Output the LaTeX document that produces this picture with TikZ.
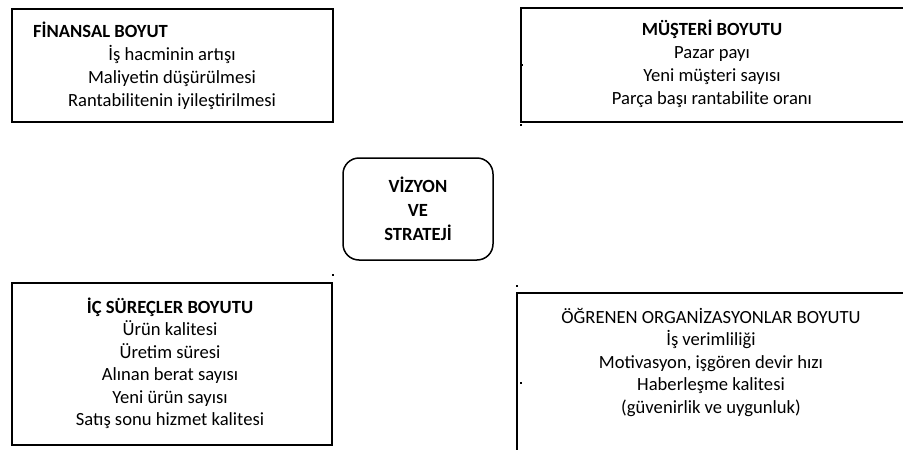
\documentclass[tikz,border=0pt]{standalone}
\usepackage{fontspec}
\setmainfont{Carlito}
\begin{document}
\begin{tikzpicture}[x=1pt,y=-1pt,
  frame/.style={draw=black,line width=2pt},
  txt/.style={font=\fontsize{18.6}{23}\selectfont,inner sep=0pt,anchor=base},
  hd/.style={txt,font=\fontsize{18.6}{23}\selectfont\bfseries},
  core/.style={draw=black,line width=1.5pt,rounded corners=16pt,
    minimum width=150pt,minimum height=102pt,align=center,
    font=\fontsize{18.6}{24}\selectfont\bfseries}]
\useasboundingbox (0,0) rectangle (903,450);

% financial perspective
\draw[frame] (12,9) rectangle (333,122);
\node[hd,anchor=base west] (fin0) at (33,37) {FİNANSAL BOYUT};
\node[txt] (fin1) at (172,60) {İş hacminin artışı};
\node[txt] (fin2) at (172,83) {Maliyetin düşürülmesi};
\node[txt] (fin3) at (172,106) {Rantabilitenin iyileştirilmesi};

% customer perspective
\draw[frame] (903,8) -- (521,8) -- (521,122) -- (903,122);
\node[hd] (mus0) at (712,35) {MÜŞTERİ BOYUTU};
\node[txt] (mus1) at (712,58) {Pazar payı};
\node[txt] (mus2) at (712,81) {Yeni müşteri sayısı};
\node[txt] (mus3) at (712,104) {Parça başı rantabilite oranı};

% vision and strategy
\node[core] (vs) at (418,209) {VİZYON\\VE\\STRATEJİ};

% internal processes perspective
\draw[frame] (12,283) rectangle (332,445);
\node[hd] (ic0) at (170,313) {İÇ SÜREÇLER BOYUTU};
\node[txt] (ic1) at (170,335.5) {Ürün kalitesi};
\node[txt] (ic2) at (170,358) {Üretim süresi};
\node[txt] (ic3) at (170,380.5) {Alınan berat sayısı};
\node[txt] (ic4) at (170,403) {Yeni ürün sayısı};
\node[txt] (ic5) at (170,425.5) {Satış sonu hizmet kalitesi};

% learning organisation perspective
\draw[frame] (903,293) -- (517,293) -- (517,450);
\node[txt] (og0) at (711,323) {ÖĞRENEN ORGANİZASYONLAR BOYUTU};
\node[txt] (og1) at (711,345.5) {İş verimliliği};
\node[txt] (og2) at (711,368) {Motivasyon, işgören devir hızı};
\node[txt] (og3) at (711,390.5) {Haberleşme kalitesi};
\node[txt] (og4) at (711,413) {(güvenirlik ve uygunluk)};

% small specks
\fill (332,274) rectangle +(2,2);
\fill (516,285) rectangle +(2,2);
\fill (520,382) rectangle +(2,2);
\fill (521,64) rectangle +(2,2);
\fill (520,124) rectangle +(2,2);
\end{tikzpicture}
\end{document}
